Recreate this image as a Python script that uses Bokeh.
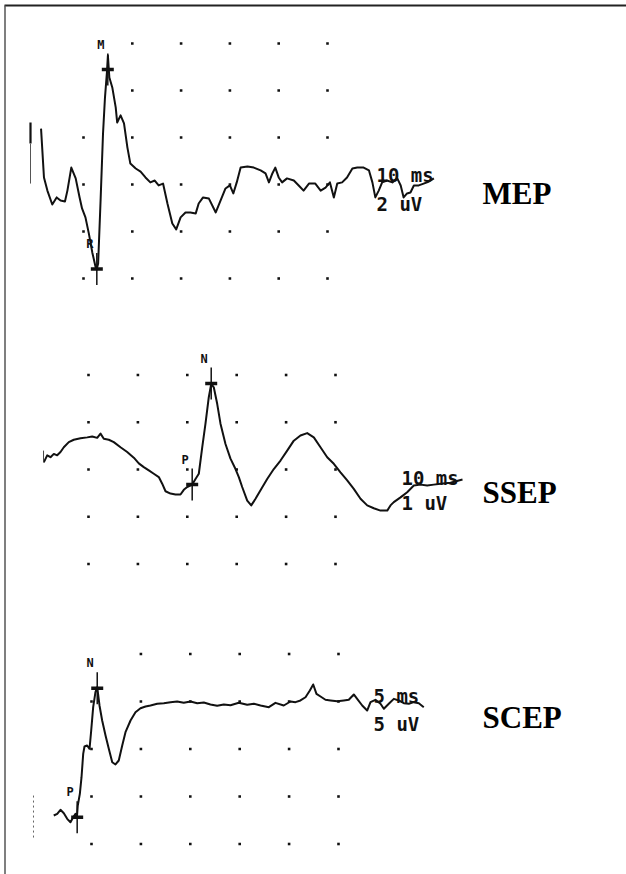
import math
from bokeh.plotting import figure
from bokeh.models import Range1d
from bokeh.core.properties import value
from bokeh.embed import file_html
from bokeh.resources import INLINE

# ---------------- data (time in ms, amplitude in uV) ----------------
MEP_T = [1.3, 1.9, 2.6, 3.6, 4.5, 5.3, 6.2, 6.7, 7.5, 8.4,
         9.2, 9.7, 10.4, 11.1, 11.8, 12.5, 12.7, 13.0, 13.5, 14.0,
         14.4, 14.8, 15.0, 15.3, 15.9, 16.6, 16.9, 17.6, 18.3, 19.0,
         19.6, 20.7, 21.7, 22.7, 23.7, 24.6, 25.4, 26.3, 27.2, 28.2,
         29.0, 29.9, 30.9, 31.9, 33.0, 33.6, 34.5, 35.7, 37.1, 38.1,
         39.1, 40.0, 40.7, 41.4, 42.2, 43.6, 44.9, 46.3, 47.3, 48.0,
         48.7, 49.3, 50.0, 50.7, 51.7, 53.1, 54.1, 55.1, 56.2, 57.5,
         58.6, 59.6, 60.5, 61.3, 62.0, 63.0, 64.0, 65.1, 66.1, 67.4,
         68.5, 69.2, 69.8, 70.5, 71.2, 72.2, 73.3, 74.3, 75.0, 75.6,
         76.3, 77.0, 77.7, 78.7, 79.7, 80.8, 81.8]
MEP_V = [2.38, 0.30, -0.26, -0.85, -0.55, -0.68, -0.72, -0.26, 0.72, 0.26,
         -0.55, -1.02, -1.40, -2.09, -2.89, -3.53, -3.62, -3.36, -0.68, 2.17,
         3.70, 4.77, 5.49, 4.55, 4.13, 3.28, 2.64, 2.94, 2.60, 1.57,
         0.89, 0.68, 0.55, 0.30, 0.09, 0.17, -0.04, 0.04, -0.81, -1.66,
         -1.91, -1.40, -1.19, -1.19, -1.23, -0.81, -0.55, -0.60, -1.19, -0.68,
         -0.17, -0.04, -0.38, 0.09, 0.72, 0.77, 0.72, 0.60, 0.47, 0.09,
         0.47, 0.72, 0.30, 0.09, 0.26, 0.17, -0.04, -0.26, 0.04, 0.04,
         -0.26, -0.13, 0.09, -0.55, 0.04, 0.09, 0.30, 0.68, 0.72, 0.72,
         0.60, 0.09, -0.55, -0.26, 0.09, 0.17, 0.09, 0.26, -0.04, -0.55,
         -0.38, -0.34, -0.04, -0.04, 0.04, 0.13, 0.26]

SSEP_T = [0.95, 1.64, 2.31, 2.98, 3.66, 4.33, 5.00, 6.01, 7.02, 8.38,
          9.74, 10.75, 11.76, 12.43, 13.10, 14.11, 15.12, 16.48, 17.83, 19.17,
          20.18, 21.19, 22.21, 23.22, 24.23, 24.92, 25.59, 26.60, 27.61, 28.62,
          29.29, 29.98, 30.99, 31.66, 32.33, 33.02, 33.68, 34.35, 34.84, 35.36,
          36.05, 36.72, 37.73, 38.74, 39.76, 40.43, 41.11, 42.13, 42.94, 43.81,
          44.82, 46.17, 47.51, 48.87, 50.22, 51.56, 52.91, 54.27, 55.61, 56.96,
          58.32, 59.66, 61.01, 62.37, 63.70, 65.06, 66.42, 67.75, 69.11, 70.47,
          71.13, 71.80, 73.16, 74.51, 75.85, 77.21, 78.56, 79.90, 81.26, 83.28, 85.71]
SSEP_V = [0.15, 0.30, 0.26, 0.33, 0.30, 0.37, 0.47, 0.58, 0.63, 0.66,
          0.68, 0.70, 0.67, 0.76, 0.65, 0.63, 0.58, 0.47, 0.37, 0.25,
          0.13, 0.05, -0.02, -0.09, -0.16, -0.30, -0.46, -0.51, -0.53, -0.53,
          -0.43, -0.37, -0.32, -0.20, -0.09, 0.47, 0.97, 1.53, 1.81, 1.74,
          1.39, 0.97, 0.54, 0.23, 0.01, -0.16, -0.37, -0.66, -0.76, -0.62,
          -0.44, -0.20, 0.01, 0.19, 0.40, 0.61, 0.72, 0.77, 0.68, 0.47,
          0.26, 0.12, -0.06, -0.23, -0.41, -0.62, -0.76, -0.82, -0.87, -0.87,
          -0.76, -0.69, -0.59, -0.48, -0.34, -0.32, -0.34, -0.32, -0.30, -0.28, -0.21]

SCEP_T = [1.18, 1.53, 1.86, 2.20, 2.54, 2.87, 3.15, 3.38, 3.53, 3.61,
          3.82, 3.99, 4.16, 4.29, 4.56, 4.80, 4.97, 5.17, 5.40, 5.58,
          5.81, 6.08, 6.42, 6.75, 7.10, 7.43, 7.76, 8.11, 8.44, 8.95,
          9.45, 9.96, 10.47, 10.97, 11.65, 12.32, 13.00, 13.67, 14.34, 15.02,
          15.70, 16.37, 17.04, 17.72, 18.39, 19.07, 19.91, 20.76, 21.43, 22.11,
          22.95, 23.62, 24.46, 25.14, 25.65, 26.15, 26.66, 27.10, 27.44, 27.77,
          28.18, 28.68, 29.19, 29.87, 30.54, 31.04, 31.55, 31.89, 32.40, 32.90,
          33.24, 33.74, 34.25, 34.59, 35.09, 35.60, 36.10, 36.61, 37.12, 37.62, 38.13, 38.63]
SCEP_V = [-12.0, -11.82, -11.40, -11.76, -12.35, -12.71, -12.18, -11.82, -12.11, -10.95,
          -9.72, -7.97, -5.51, -4.74, -4.63, -4.98, -3.05, -0.60, 0.98, 1.51,
          -0.42, -2.0, -3.58, -4.98, -6.39, -6.63, -6.21, -4.63, -3.23, -2.0,
          -1.13, -0.71, -0.53, -0.42, -0.24, -0.18, -0.07, 0.0, -0.14, 0.0,
          -0.18, -0.11, -0.32, -0.45, -0.32, -0.39, -0.14, -0.35, -0.24, -0.42,
          -0.60, -0.14, -0.42, 0.0, -0.07, 0.11, 0.45, 1.16, 1.79, 0.81,
          0.53, 0.18, 0.11, 0.03, 0.11, 0.18, 0.74, 0.28, -0.42, -0.95,
          -0.07, 0.18, -0.24, -0.77, -0.24, 0.28, 0.11, -0.18, -0.24, -0.07, -0.18, -0.60]

# peak markers
MEP_PEAK_LABELS = ["M", "R"]
MEP_PEAK_T = [14.98, 12.73]
MEP_PEAK_V = [4.89, -3.60]
SSEP_PEAK_LABELS = ["N", "P"]
SSEP_PEAK_T = [34.84, 30.99]
SSEP_PEAK_V = [1.82, -0.32]
SCEP_PEAK_LABELS = ["N", "P"]
SCEP_PEAK_T = [5.58, 3.55]
SCEP_PEAK_V = [1.40, -12.18]

# screen grid (divisions)
MEP_GRID_T = [10, 20, 30, 40, 50, 60]
MEP_GRID_V = [6, 4, 2, 0, -2, -4]
SSEP_GRID_T = [10, 20, 30, 40, 50, 60]
SSEP_GRID_V = [2, 1, 0, -1, -2]
SCEP_GRID_T = [5, 10, 15, 20, 25, 30]
SCEP_GRID_V = [5, 0, -5, -10, -15]

TITLES = ["MEP", "SSEP", "SCEP"]
CAL_TIME = ["10 ms", "10 ms", "5 ms"]
CAL_AMP = [" 2 uV", " 1 uV", "5 uV"]

# ---------------- layout (page pixels of the reference) ----------------
W, H = 626, 874

# name: (x px of t_ref, t_ref, px per ms, y px of v=0, px per uV)
PANELS = {
    "mep": (83, 10, 4.88, 184, 23.5),
    "ssep": (88, 10, 4.94, 469, 47.25),
    "scep": (91, 5, 9.88, 701, 9.5),
}

p = figure(width=W, height=H, x_range=Range1d(0, W), y_range=Range1d(H, 0),
           x_axis_type=None, y_axis_type=None, output_backend="svg",
           toolbar_location=None, min_border=0)
p.outline_line_color = None
p.background_fill_color = "white"
p.border_fill_color = "white"

xr, yr = {}, {}
for name, (xpx, tref, pxms, ypx, pxuv) in PANELS.items():
    xr[name] = Range1d(tref - xpx / pxms, tref + (W - xpx) / pxms)
    yr[name] = Range1d(-(H - ypx) / pxuv, ypx / pxuv)
p.extra_x_ranges = xr
p.extra_y_ranges = yr

# frame of the scanned page
p.segment(x0=[4], y0=[5], x1=[W], y1=[5], line_color="#222222", line_width=2)
p.segment(x0=[4.5], y0=[5], x1=[4.5], y1=[H], line_color="#555555", line_width=1.5)

INK = "#111111"

def grid(name, ts, vs, skip=()):
    gx, gy = [], []
    for v in vs:
        for t in ts:
            if (t, v) in skip:
                continue
            gx.append(t)
            gy.append(v)
    p.scatter(gx, gy, marker="square", size=2.6, fill_color=INK, line_color=None,
              x_range_name=name, y_range_name=name)

grid("mep", MEP_GRID_T, MEP_GRID_V, skip={(10, 6), (10, 4)})
grid("ssep", SSEP_GRID_T, SSEP_GRID_V)
grid("scep", SCEP_GRID_T, SCEP_GRID_V, skip={(5, 5)})

# traces
for name, ts, vs in [("mep", MEP_T, MEP_V), ("ssep", SSEP_T, SSEP_V), ("scep", SCEP_T, SCEP_V)]:
    p.line(ts, vs, line_color=INK, line_width=2, line_join="round",
           x_range_name=name, y_range_name=name)

# start-of-sweep marks
p.segment(x0=[-0.86], y0=[2.64], x1=[-0.86], y1=[1.74], line_color=INK, line_width=2.2,
          x_range_name="mep", y_range_name="mep")
p.segment(x0=[-0.86], y0=[1.74], x1=[-0.86], y1=[0.04], line_color="#555555", line_width=1,
          x_range_name="mep", y_range_name="mep")
p.segment(x0=[0.9], y0=[0.40], x1=[0.9], y1=[0.15], line_color="#444444", line_width=1,
          x_range_name="ssep", y_range_name="ssep")
p.segment(x0=[-0.87], y0=[-9.9], x1=[-0.87], y1=[-14.4], line_color="#666666", line_width=1,
          line_dash="2 3", x_range_name="scep", y_range_name="scep")

# peak cursors and their letters
for name, labs, ts, vs in [("mep", MEP_PEAK_LABELS, MEP_PEAK_T, MEP_PEAK_V),
                           ("ssep", SSEP_PEAK_LABELS, SSEP_PEAK_T, SSEP_PEAK_V),
                           ("scep", SCEP_PEAK_LABELS, SCEP_PEAK_T, SCEP_PEAK_V)]:
    p.scatter(ts, vs, marker="dash", size=12, line_width=3.5, line_color=INK,
              x_range_name=name, y_range_name=name)
    p.scatter(ts, vs, marker="dash", angle=math.pi / 2, size=32, line_width=1.5,
              line_color=INK, x_range_name=name, y_range_name=name)
    p.text(ts, vs, text=labs, text_font=value("DejaVu Sans Mono"), text_font_size="12px",
           text_font_style="bold", text_align="center", text_baseline="bottom",
           x_offset=-7, y_offset=-18, text_color=INK, x_range_name=name, y_range_name=name)

# calibration texts and titles (page pixel positions)
CAL_X = [376, 401, 373]
CAL_Y1 = [174, 477, 695]
CAL_Y2 = [203, 502, 723]
TITLE_X = [482, 482, 482]
TITLE_Y = [193, 492, 717]

p.text(CAL_X, CAL_Y1, text=CAL_TIME,
       text_font=value("DejaVu Sans Mono"), text_font_size="19px", text_font_style="bold",
       text_align="left", text_baseline="alphabetic", text_color=INK)
p.text(CAL_X, CAL_Y2, text=CAL_AMP,
       text_font=value("DejaVu Sans Mono"), text_font_size="19px", text_font_style="bold",
       text_align="left", text_baseline="alphabetic", text_color=INK)
p.text(TITLE_X, TITLE_Y, text=TITLES,
       text_font=value("Liberation Serif"), text_font_size="31px", text_font_style="bold",
       text_align="left", text_baseline="alphabetic", text_color="#000000")

open("out.html", "w").write(file_html(p, INLINE))
